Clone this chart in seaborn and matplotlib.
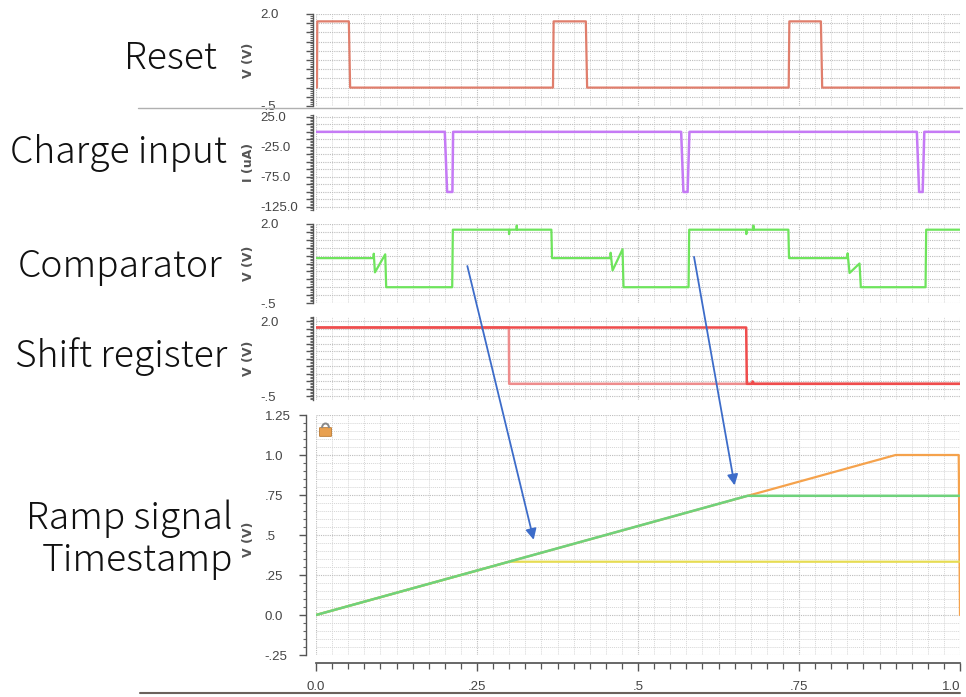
import matplotlib
matplotlib.use("Agg")
import numpy as np
import pandas as pd
import seaborn as sns
import matplotlib.pyplot as plt
from matplotlib.ticker import MultipleLocator
from matplotlib.patches import ConnectionPatch, FancyBboxPatch, Arc
from matplotlib.lines import Line2D

# ---------------- data ----------------
reset_t = [0.0, 0.0015, 0.002, 0.051, 0.053, 0.368, 0.369, 0.419, 0.421, 0.734, 0.735, 0.784, 0.786, 1.0]
reset_v = [0.0, 0.0,    1.8,   1.8,   0.0,   0.0,   1.8,   1.8,   0.0,   0.0,   1.8,   1.8,   0.0,   0.0]

charge_t = [0.0, 0.200, 0.2036, 0.2118, 0.2129, 0.567, 0.5705, 0.577, 0.5799, 0.933, 0.9365, 0.942, 0.9446, 1.0]
charge_v = [0.0, 0.0,   -100,   -100,   0.0,    0.0,   -100,   -100,  0.0,    0.0,   -100,   -100,  0.0,    0.0]

comp_t = [0.0, 0.0893, 0.0897, 0.0915, 0.1075, 0.109,
          0.2115, 0.2125, 0.2996, 0.2998, 0.3002, 0.3115, 0.3117, 0.3121, 0.3655,
          0.3665, 0.457, 0.4575, 0.4605, 0.476, 0.4775,
          0.5785, 0.5795, 0.668, 0.6682, 0.6686, 0.679, 0.6792, 0.6796, 0.7335,
          0.7345, 0.825, 0.8255, 0.8285, 0.844, 0.846,
          0.9465, 0.9475, 1.0]
comp_v = [0.92, 0.92, 1.06, 0.47, 1.04, 0.0,
          0.0, 1.82, 1.82, 1.68, 1.82, 1.82, 1.95, 1.82, 1.82,
          0.92, 0.92, 1.09, 0.53, 1.2, 0.0,
          0.0, 1.82, 1.82, 1.68, 1.82, 1.82, 1.95, 1.82, 1.82,
          0.92, 0.92, 1.07, 0.45, 0.75, 0.0,
          0.0, 1.82, 1.82]

sr1_t = [0.0, 0.2995, 0.3, 1.0]
sr1_v = [1.8, 1.8, -0.08, -0.08]
sr2_t = [0.0, 0.668, 0.669, 0.677, 0.678, 0.68, 1.0]
sr2_v = [1.8, 1.8, -0.08, -0.08, 0.0, -0.08, -0.08]

ramp_t = [0.0, 0.90, 0.998, 1.0]
ramp_v = [0.0, 1.0, 1.0, 0.0]
ts1_t = [0.0, 0.30, 1.0]
ts1_v = [0.0, 0.333, 0.333]
ts2_t = [0.0, 0.67, 1.0]
ts2_v = [0.0, 0.745, 0.745]

row_names = ["Reset", "Charge input", "Comparator", "Shift register", "Ramp signal", "Timestamp"]
ramp_xticks = [0.0, 0.25, 0.5, 0.75, 1.0]
ramp_xticklabels = ["0.0", ".25", ".5", ".75", "1.0"]
ramp_yticks = [-0.25, 0.0, 0.25, 0.5, 0.75, 1.0, 1.25]
ramp_yticklabels = ["-.25", "0.0", ".25", ".5", ".75", "1.0", "1.25"]
volt_yticks = [-0.5, -0.25, 0.0, 0.25, 0.5, 0.75, 1.0, 1.25, 1.5, 1.75, 2.0]
volt_yticklabels = ["-.5", "", "", "", "", "", "", "", "", "", "2.0"]
charge_yticks = [-125, -112.5, -100, -87.5, -75, -62.5, -50, -37.5, -25, -12.5, 0, 12.5, 25]
charge_yticklabels = ["-125.0", "", "", "", "-75.0", "", "", "", "-25.0", "", "", "", "25.0"]

# ---------------- style ----------------
sns.set_theme(style="white")
plt.rcParams["font.family"] = ["Noto Sans CJK JP", "DejaVu Sans"]
TICKFONT = ["Liberation Sans Narrow", "Liberation Sans", "DejaVu Sans"]

W, H = 966, 697
fig = plt.figure(figsize=(W / 100, H / 100), dpi=100)
fig.patch.set_facecolor("white")


def rect(top, bottom, left=316, right=960):
    return [left / W, 1 - bottom / H, (right - left) / W, (bottom - top) / H]


def px(x, y):
    return (x / W, 1 - y / H)


def style_axis(ax, ylim, yticks, ylabels, ylabel, minor_y, spine_out, label_pad, show_x=False,
               minor_grid_y=False):
    ax.set_xlim(0, 1)
    ax.set_ylim(*ylim)
    ax.set_facecolor("white")
    for s in ["top", "right", "bottom"]:
        ax.spines[s].set_visible(False)
    ax.spines["left"].set_position(("outward", spine_out))
    ax.spines["left"].set_color("#555555")
    ax.spines["left"].set_linewidth(1.0)
    ax.set_yticks(yticks, ylabels)
    ax.yaxis.set_minor_locator(MultipleLocator(minor_y))
    ax.xaxis.set_major_locator(MultipleLocator(0.25))
    ax.xaxis.set_minor_locator(MultipleLocator(0.025))
    ax.tick_params(axis="y", which="major", direction="out", length=5, width=1.0,
                   color="#555555", pad=label_pad, labelsize=9.5, labelcolor="#444444", left=True)
    ax.tick_params(axis="y", which="minor", direction="out", length=2.5, width=0.8,
                   color="#666666", left=True)
    for lab in ax.get_yticklabels():
        lab.set_horizontalalignment("left")
        lab.set_fontfamily(TICKFONT)
    ax.grid(True, which="major", axis="both", color="#bdbdbd", linestyle=(0, (1, 1)), linewidth=0.8)
    ax.grid(True, which="minor", axis="x", color="#d6d6d6", linestyle=(0, (1, 1)), linewidth=0.7)
    if minor_grid_y:
        ax.grid(True, which="minor", axis="y", color="#d6d6d6", linestyle=(0, (1, 1)), linewidth=0.7)
    ax.set_axisbelow(True)
    ax.set_ylabel(ylabel, fontsize=9, fontweight="bold", color="#555555",
                  fontfamily=["DejaVu Sans"])
    ax.set_xlabel("")
    if not show_x:
        ax.tick_params(axis="x", which="both", length=0, labelbottom=False, bottom=False)


def trace(ax, t, v, color, lw=1.6, alpha=1.0):
    df = pd.DataFrame({"t": t, "v": v})
    sns.lineplot(data=df, x="t", y="v", ax=ax, color=color, linewidth=lw,
                 estimator=None, sort=False, alpha=alpha)


# Reset
ax_r = fig.add_axes(rect(14, 106))
trace(ax_r, reset_t, reset_v, "#e07e6c")
style_axis(ax_r, (-0.5, 2.0), volt_yticks, volt_yticklabels, "V (V)", 0.05, 2, 33)

# Charge input
ax_c = fig.add_axes(rect(115, 210))
trace(ax_c, charge_t, charge_v, "#c57af5", lw=1.8)
style_axis(ax_c, (-130, 28), charge_yticks, charge_yticklabels, "I (uA)", 2.5, 2, 33)

# Comparator
ax_k = fig.add_axes(rect(224, 303))
trace(ax_k, comp_t, comp_v, "#6ee45c")
style_axis(ax_k, (-0.5, 2.0), volt_yticks, volt_yticklabels, "V (V)", 0.05, 2, 33)

# Shift register
ax_s = fig.add_axes(rect(317, 400))
trace(ax_s, sr1_t, sr1_v, "#ee8c8c", lw=1.8)
trace(ax_s, sr2_t, sr2_v, "#ef4c4c", lw=1.8)
style_axis(ax_s, (-0.62, 2.15), volt_yticks, volt_yticklabels, "V (V)", 0.05, 2, 33)

# Ramp / timestamps
ax_p = fig.add_axes(rect(415, 655))
trace(ax_p, ramp_t, ramp_v, "#f5a24c", lw=1.6)
trace(ax_p, ts1_t, ts1_v, "#e6dc52", lw=1.6)
trace(ax_p, ts2_t, ts2_v, "#6fd27c", lw=1.8)
style_axis(ax_p, (-0.25, 1.25), ramp_yticks, ramp_yticklabels, "V (V)", 0.05, 7, 25,
           show_x=True, minor_grid_y=True)
ax_p.spines["bottom"].set_visible(True)
ax_p.spines["bottom"].set_position(("outward", 6))
ax_p.spines["bottom"].set_color("#555555")
ax_p.set_xticks(ramp_xticks, ramp_xticklabels)
ax_p.xaxis.set_minor_locator(MultipleLocator(0.025))
ax_p.tick_params(axis="x", which="major", direction="out", length=6, width=1.0, color="#555555",
                 pad=7, labelsize=9.5, labelcolor="#444444", bottom=True)
ax_p.tick_params(axis="x", which="minor", direction="out", length=4, width=0.9, color="#555555",
                 bottom=True)
for lab in ax_p.get_xticklabels():
    lab.set_fontfamily(TICKFONT)
ax_p.get_xticklabels()[-1].set_horizontalalignment("right")
ax_p.get_xticklabels()[-1].set_x(1.0)

# y-label positions
for ax in [ax_r, ax_c, ax_k, ax_s]:
    ax.yaxis.set_label_coords(-0.095, 0.5)
ax_p.yaxis.set_label_coords(-0.095, 0.48)

# Lock icon
fig.add_artist(FancyBboxPatch(px(320, 436), 11 / W, 8 / H, boxstyle="round,pad=0.0005",
                              transform=fig.transFigure, facecolor="#e8a050",
                              edgecolor="#b97830", linewidth=0.6))
fig.add_artist(Arc(px(325.5, 428), 7 / W, 9 / H, theta1=0, theta2=180,
                   transform=fig.transFigure, color="#888888", linewidth=1.4))

# Row labels
label_pos = [(217, 69), (227, 163), (222, 277), (227, 367), (233, 529), (233, 571)]
for name, (x, y) in zip(row_names, label_pos):
    fig.text(*px(x, y), name, ha="right", va="baseline", fontsize=26.8, color="#111111",
             fontweight="light")

# Separator lines
fig.add_artist(Line2D([138 / W, 962 / W], [1 - 108 / H] * 2, color="#b0b0b0", linewidth=1.0,
                      transform=fig.transFigure))
fig.add_artist(Line2D([140 / W, 960 / W], [1 - 693 / H] * 2, color="#6b625c", linewidth=1.5,
                      transform=fig.transFigure))

# Arrows: comparator edge -> ramp
arrow_color = "#3d6cc9"
for (ta, va), (tb, vb) in [((0.235, 0.67), (0.338, 0.47)), ((0.587, 0.96), (0.650, 0.81))]:
    cp = ConnectionPatch(xyA=(ta, va), coordsA=ax_k.transData, xyB=(tb, vb), coordsB=ax_p.transData,
                         arrowstyle="-|>", color=arrow_color, linewidth=1.3, mutation_scale=16)
    fig.add_artist(cp)

fig.savefig("out.png", dpi=100, facecolor="white")
